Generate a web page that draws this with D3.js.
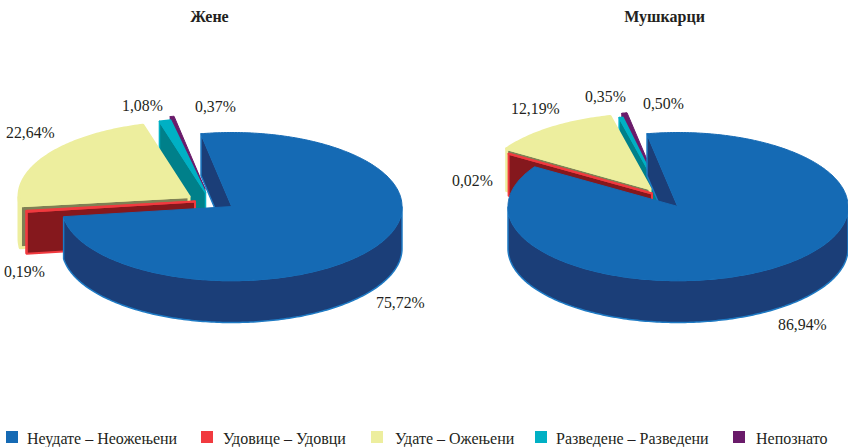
<!DOCTYPE html>
<html><head><meta charset="utf-8">
<style>html,body{margin:0;padding:0;background:#fff}svg{display:block}text{font-family:"Liberation Serif","Times New Roman",serif;fill:#231f20}</style>
<script src="https://cdn.jsdelivr.net/npm/d3@7"></script></head><body>
<script>
const categories = ["Неудате – Неожењени","Удовице – Удовци","Удате – Ожењени","Разведене – Разведени","Непознато"];
const womenValues = [75.72,0.19,22.64,1.08,0.37];
const menValues = [86.94,0.02,12.19,0.35,0.50];
const womenLabels = ["75,72%","0,19%","22,64%","1,08%","0,37%"];
const menLabels = ["86,94%","0,02%","12,19%","0,35%","0,50%"];
const titles = ["Жене","Мушкарци"];

// styles / layout
const topColors = ["#156ab4","#f13a3f","#edee9e","#00b0c4","#6a1b6a"];
const wallColors = ["#1b3e78","#85181d","#7f8055","#00808a","#4d1450"];
const edgeColors = ["#1e7ac4","#f13a3f","#edee9e","#00b0c4","#6a1b6a"];
const edgeWidths = [1.5,2,3,1.5,1];
const drawOrder = [4,3,2,1,0];
const W=848,H=447,RX=170,RY=74,DEPTH=42,START=-10.5*Math.PI/180;
const pies=[
 {cx:232,cy:206.5,titleX:209.5,values:womenValues,labels:womenLabels,
  shift:[[0,0],[-37,-5],[-43,-10],[-26.5,-14],[-27,-17.5]],
  labelPos:[[376,308],[4,277],[6,138],[122,111],[195,112]]},
 {cx:678,cy:206.5,titleX:664.5,values:menValues,labels:menLabels,
  shift:[[0,0],[-26,-13],[-28,-18],[-19,-17],[-20,-21]],
  labelPos:[[778,330],[452,186],[511,114],[585,102],[643,109]]}
];
const legendSwatch=[6,201,371,535,733], legendText=[27,223,395,556,756];

const svg=d3.select("body").append("svg").attr("width",W).attr("height",H);
const pieGen=d3.pie().sort(null).startAngle(START).endAngle(START+2*Math.PI);
const line=d3.line();

pies.forEach((p,pi)=>{
  const arcs=pieGen(p.values);
  const g=svg.append("g");
  drawOrder.forEach(i=>{
    const a=arcs[i];
    const x=d3.scaleLinear([-1,1],[p.cx+p.shift[i][0]-RX,p.cx+p.shift[i][0]+RX]);
    const y=d3.scaleLinear([-1,1],[p.cy+p.shift[i][1]-RY,p.cy+p.shift[i][1]+RY]);
    const pt=(t,d=0)=>[x(Math.sin(t)),y(-Math.cos(t))+d];
    const apex=[x(0),y(0)];
    const sweep=(t0,t1,d=0)=>{const n=Math.max(2,Math.ceil(Math.abs(t1-t0)*60));
      return d3.range(n+1).map(k=>pt(t0+(t1-t0)*k/n,d));};
    g.append("path").attr("d",line([pt(a.startAngle),pt(a.startAngle,DEPTH),[apex[0],apex[1]+DEPTH],apex])+"Z")
      .attr("fill",wallColors[i]).attr("stroke",edgeColors[i]).attr("stroke-width",edgeWidths[i]).attr("stroke-linejoin","round");
    const lo=Math.max(a.startAngle,Math.PI/2), hi=Math.min(a.endAngle,3*Math.PI/2);
    if(hi>lo){
      const front=sweep(lo,hi), back=sweep(hi,lo,DEPTH);
      g.append("path").attr("d",line(front.concat(back))+"Z")
       .attr("fill",i===2?topColors[i]:wallColors[i]).attr("stroke",edgeColors[i]).attr("stroke-width",edgeWidths[i]);
    }
    g.append("path").attr("d",line([apex].concat(sweep(a.startAngle,a.endAngle)))+"Z")
      .attr("fill",topColors[i]).attr("stroke",i===0?topColors[i]:edgeColors[i]).attr("stroke-width",i===0?1:edgeWidths[i]).attr("stroke-linejoin","round");
  });
  svg.append("text").attr("x",p.titleX).attr("y",22).attr("text-anchor","middle")
    .attr("font-weight","bold").attr("font-size",16).text(titles[pi]);
  p.labels.forEach((t,i)=>svg.append("text").attr("x",p.labelPos[i][0]).attr("y",p.labelPos[i][1])
    .attr("font-size",15.8).text(t));
});

categories.forEach((c,i)=>{
  svg.append("rect").attr("x",legendSwatch[i]).attr("y",431).attr("width",12).attr("height",12).attr("fill",topColors[i]);
  svg.append("text").attr("x",legendText[i]).attr("y",444).attr("font-size",16).text(c);
});
</script></body></html>
